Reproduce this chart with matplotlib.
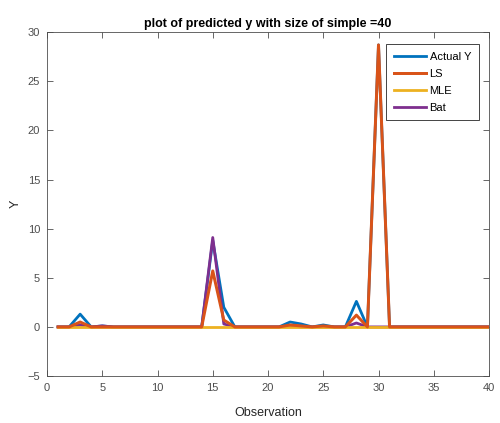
import numpy as np
import matplotlib.pyplot as plt

plt.rcParams['font.family'] = ['Liberation Sans', 'DejaVu Sans']

# observations 1..40
obs = list(range(1, 41))

actual_y = [0, 0, 1.3, 0, 0.1, 0, 0, 0, 0, 0,
            0, 0, 0, 0, 8.8, 2.0, 0, 0, 0, 0,
            0, 0.5, 0.3, 0, 0.2, 0, 0, 2.6, 0, 28.7,
            0, 0, 0, 0, 0, 0, 0, 0, 0, 0]
ls_y = [0, 0, 0.5, 0, 0, 0, 0, 0, 0, 0,
        0, 0, 0, 0, 5.7, 0.7, 0, 0, 0, 0,
        0, 0.2, 0.1, 0, 0.1, 0, 0, 1.2, 0, 28.7,
        0, 0, 0, 0, 0, 0, 0, 0, 0, 0]
mle_y = [0] * 40
bat_y = [0, 0, 0.2, 0, 0.1, 0, 0, 0, 0, 0,
         0, 0, 0, 0, 9.1, 0.3, 0, 0, 0, 0,
         0, 0.1, 0, 0, 0, 0, 0, 0.4, 0, 0,
         0, 0, 0, 0, 0, 0, 0, 0, 0, 0]

c_actual = (0, 0.447, 0.741)
c_ls = (0.85, 0.325, 0.098)
c_mle = (0.929, 0.694, 0.125)
c_bat = (0.494, 0.184, 0.556)
c_axis = '#4d4d4d'

fig = plt.figure(figsize=(5.0, 4.23), dpi=100)
ax = fig.add_axes([0.094, 0.111, 0.884, 0.813])

lw = 2.0
h_actual, = ax.plot(obs, actual_y, color=c_actual, lw=lw, label='Actual Y')
h_bat, = ax.plot(obs, bat_y, color=c_bat, lw=lw, label='Bat')
h_mle, = ax.plot(obs, mle_y, color=c_mle, lw=lw, label='MLE')
h_ls, = ax.plot(obs, ls_y, color=c_ls, lw=lw + 0.15, label='LS')

ax.set_xlim(0, 40)
ax.set_ylim(-5, 30)
ax.set_xticks(range(0, 41, 5))
ax.set_yticks(range(-5, 31, 5))
ax.tick_params(direction='in', labelsize=8, length=4, width=0.6,
               top=True, right=True, colors=c_axis, pad=5)
for s in ax.spines.values():
    s.set_linewidth(0.6)
    s.set_color(c_axis)

ax.set_title('plot of predicted y with size of simple =40', fontsize=9,
             fontweight='bold', pad=4)
ax.set_xlabel('Observation', fontsize=9, labelpad=10, color='#262626')
ax.set_ylabel('Y', fontsize=9, labelpad=4, color='#262626')

leg = ax.legend([h_actual, h_ls, h_mle, h_bat], ['Actual Y', 'LS', 'MLE', 'Bat'],
                loc='upper right', fontsize=8, handlelength=2.9,
                fancybox=False, edgecolor='#262626', framealpha=1,
                bbox_to_anchor=(0.977, 0.965), borderaxespad=0,
                borderpad=0.7, handletextpad=0.3, labelspacing=0.62)
leg.get_frame().set_linewidth(0.6)

fig.savefig('out.png', dpi=100)
plt.close(fig)
